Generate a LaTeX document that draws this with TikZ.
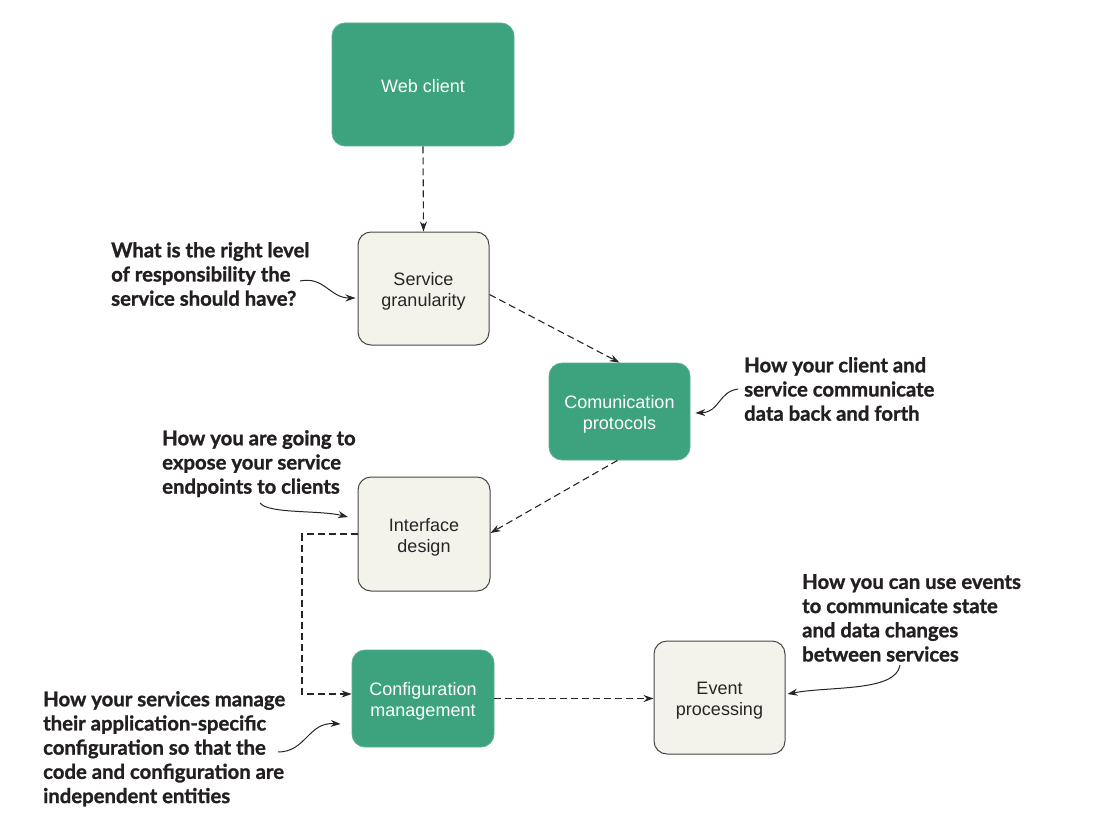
\documentclass[tikz,border=0pt]{standalone}
\usepackage{fontspec}
\setmainfont{Liberation Sans}
\newfontfamily\annfont[BoldFeatures={FakeBold=1.2}]{Lato}
\usetikzlibrary{arrows.meta}
\definecolor{boxgreen}{RGB}{61,163,127}
\definecolor{boxlight}{RGB}{244,243,235}
\definecolor{boxline}{RGB}{70,70,70}
\definecolor{anntext}{RGB}{35,31,32}
\newcommand{\bt}[1]{\raisebox{0pt}[\dimexpr\height+7pt\relax][\depth]{\begin{tabular}{@{}c@{}}#1\end{tabular}}}
\tikzset{
  greenbox/.style={draw=boxgreen!85!white, line width=0.8pt, fill=boxgreen, rounded corners=13pt, text=white, font=\fontsize{18}{21}\selectfont, inner sep=0pt},
  lightbox/.style={draw=boxline, line width=1pt, fill=boxlight, rounded corners=13pt, text=black!85, font=\fontsize{18}{21}\selectfont, inner sep=0pt},
  flow/.style={draw=black!85, line width=1.1pt, dash pattern=on 7pt off 4pt, -{Stealth[length=10pt,width=7pt]}},
  ann/.style={align=left, anchor=north west, inner sep=0pt, text=anntext, font=\annfont\bfseries\fontsize{20.3}{24.2}\selectfont},
  annarrow/.style={draw=black!85, line width=1pt, -{Stealth[length=10pt,width=7pt]}}
}
\begin{document}
\begin{tikzpicture}[x=1pt,y=-1pt]
\useasboundingbox (0,0) rectangle (1100,824);

% boxes
\node[greenbox, minimum width=182pt, minimum height=123pt] (web) at (423,84.5) {\bt{Web client}};
\node[lightbox, minimum width=131pt, minimum height=113pt] (gran) at (423.5,288.5) {\bt{Service\\granularity}};
\node[greenbox, minimum width=141pt, minimum height=97pt] (comm) at (619.5,411.5) {\bt{Comunication\\protocols}};
\node[lightbox, minimum width=132pt, minimum height=114pt] (iface) at (424,534) {\bt{Interface\\design}};
\node[greenbox, minimum width=142pt, minimum height=97pt] (conf) at (423,698.5) {\bt{Configuration\\management}};
\node[lightbox, minimum width=131pt, minimum height=113pt] (event) at (719.5,697.5) {\bt{Event\\processing}};

% flow connectors
\draw[flow] (web.south) -- (gran.north);
\draw[flow] ([yshift=-6pt]gran.east) -- ([xshift=0pt]comm.north);
\draw[flow] ([xshift=-2pt]comm.south) -- ([yshift=1pt]iface.east);
\coordinate (elbow) at (302,534);
\draw[flow] (iface.west) -- (elbow) |- ([yshift=4.5pt]conf.west);
\draw[flow] (conf.east) -- (event.west |- conf.east);

% annotations
\node[ann] (a1) at (111,242) {What is the right level\\of responsibility the\\service should have?};
\coordinate (a1s) at (300,281);
\draw[annarrow] (a1s) .. controls (324,276) and (330,298) .. ([xshift=-2pt]gran.west |- 0,298);

\node[ann] (a2) at (744,357) {How your client and\\service communicate\\data back and forth};
\coordinate (a2s) at (738,389);
\draw[annarrow] (a2s) .. controls (718,392) and (720,412) .. ([xshift=5pt]comm.east |- 0,413);

\node[ann] (a3) at (162,430) {How you are going to\\expose your service\\endpoints to clients};
\coordinate (a3s) at (260,503);
\draw[annarrow] (a3s) .. controls (268,514) and (320,510) .. (348,517);

\node[ann] (a4) at (43,691) {How your services manage\\their application-specific\\configuration so that the\\code and configuration are\\independent entities};
\coordinate (a4s) at (278,752);
\draw[annarrow] (a4s) .. controls (306,752) and (308,722) .. ([xshift=-11pt]conf.west |- 0,724);

\node[ann] (a5) at (802,574) {How you can use events\\to communicate state\\and data changes\\between services};
\coordinate (a5s) at (900,665);
\draw[annarrow] (a5s) .. controls (896,692) and (830,686) .. ([xshift=2pt]event.east |- 0,694);
\end{tikzpicture}
\end{document}
